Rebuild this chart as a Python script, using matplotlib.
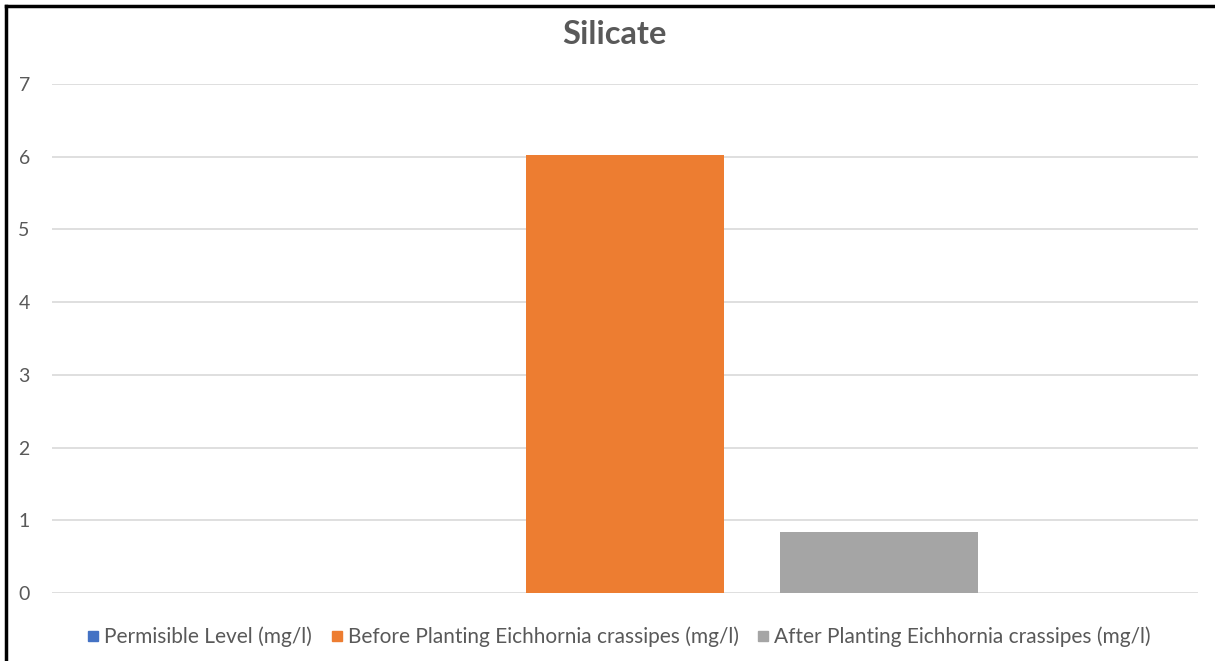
import matplotlib
matplotlib.use("Agg")
import matplotlib.pyplot as plt
from matplotlib.lines import Line2D

plt.rcParams['font.family'] = ['Lato', 'DejaVu Sans']

title = "Silicate"
series = ["Permisible Level (mg/l)",
          "Before Planting Eichhornia crassipes (mg/l)",
          "After Planting Eichhornia crassipes (mg/l)"]
values = [0.0, 6.02, 0.84]
colors = ["#4472C4", "#ED7D31", "#A5A5A5"]
yticks = [0, 1, 2, 3, 4, 5, 6, 7]

W, H = 1215, 661
fig = plt.figure(figsize=(W / 100, H / 100), dpi=100)
ax = fig.add_axes([52 / W, 1 - 593 / H, (1198 - 52) / W, (593 - 84) / H])

positions = [-1, 0, 1]
for p, v, c, s in zip(positions, values, colors, series):
    ax.bar(p, v, width=0.783, color=c, label=s, zorder=3)

ax.set_xlim(-2.256, 2.256)
ax.set_ylim(0, 7)
ax.set_yticks(yticks)
ax.set_xticks([])
ax.grid(axis='y', color='#D9D9D9', linewidth=1.2, zorder=0)
for sp in ax.spines.values():
    sp.set_visible(False)
ax.tick_params(axis='y', length=0, pad=16, labelsize=14, labelcolor='#595959')

fig.text(614 / W, 1 - 34 / H, title, ha='center', va='center',
         fontsize=23.5, fontweight='bold', color='#595959')

handles = [Line2D([], [], marker='s', linestyle='none', markersize=7.5,
                  markerfacecolor=c, markeredgecolor=c) for c in colors]
fig.legend(handles, series, loc='center', bbox_to_anchor=(618 / W, 1 - 637 / H),
           ncol=3, frameon=False, fontsize=15, labelcolor='#595959',
           handletextpad=0.15, columnspacing=0.8, handlelength=0.75)

# partial black frame (left and top edges visible)
fig.add_artist(Line2D([6 / W, 6 / W], [0, 1 - 6 / H], color='black', linewidth=2.5,
                      transform=fig.transFigure))
fig.add_artist(Line2D([6 / W, 1], [1 - 6 / H, 1 - 6 / H], color='black', linewidth=2.5,
                      transform=fig.transFigure))

fig.savefig("out.png", dpi=100, facecolor='white')
